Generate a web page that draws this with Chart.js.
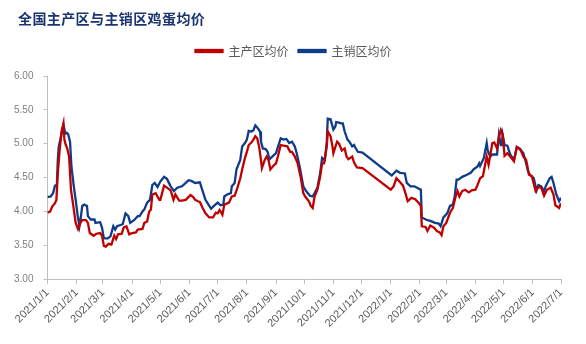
<!DOCTYPE html>
<html>
<head>
<meta charset="utf-8">
<script src="https://cdn.jsdelivr.net/npm/chart.js@4/dist/chart.umd.min.js"></script>
<style>
html,body{margin:0;padding:0;background:#fff;}
#wrap{position:relative;width:586px;height:344px;}
#title{position:absolute;left:18px;top:8px;font-family:"Noto Sans CJK SC",sans-serif;font-weight:bold;font-size:14px;color:#1A3470;letter-spacing:0.4px;}
canvas{position:absolute;left:0;top:0;}
</style>
</head>
<body>
<div id="wrap">
<canvas id="c" width="586" height="344"></canvas>
<div id="title">全国主产区与主销区鸡蛋均价</div>
</div>
<script>
// days since 2021-01-01
const tickDays = [0,31,59,90,120,151,181,212,243,273,304,334,365,396,424,455,485,516,546];
const tickLabels = ['2021/1/1','2021/2/1','2021/3/1','2021/4/1','2021/5/1','2021/6/1','2021/7/1','2021/8/1','2021/9/1','2021/10/1','2021/11/1','2021/12/1','2022/1/1','2022/2/1','2022/3/1','2022/4/1','2022/5/1','2022/6/1','2022/7/1'];
const seriesNames = ['主产区均价','主销区均价'];

const producerDays = [0,3,5,8,9.5,11,13,15,17,18,19.5,21,23,25,28,30,32.5,35,37,41,43,45,49,52,56,58,60,62,65,68,71,73,75,79,81,84,87,90,94,96,101,103,106,108,110,111.5,115,119,120,124,127,131,134,136,140,143,147,152,155,157,160,162,165,168,172,176,179,181,183,186,188,193,196,199,202,205,207,210,212,214,217,219,221,223,225,227,228,231,233,235,237,240,243,245,248,251,255,258,260,263,266,269,272,274,278,280,282,284,287,290,292,294,297,298,301,303,304,306,308,310,313,316,318,320,324,326,329,335,365,368,371,375,378,381,383,387,391,395,397,398,402,404,407,411,414,417,419,421,424,428,431,434,436,438,441,444,448,451,455,457,460,463,466,467,469,473,475,478,480,482,484,486,489,492,496,499,503,506,509,512,515,519,522,525,528,531,535,538,540,544,546];
const producerVals = [3.98,4.00,4.07,4.12,4.17,4.57,4.91,5.18,5.30,5.06,4.98,4.93,4.81,4.32,4.03,3.83,3.74,3.83,3.87,3.87,3.83,3.68,3.64,3.67,3.68,3.64,3.49,3.48,3.52,3.51,3.64,3.59,3.66,3.67,3.76,3.78,3.66,3.68,3.69,3.73,3.74,3.83,3.85,3.99,4.03,4.25,4.27,4.17,4.17,4.38,4.35,4.31,4.17,4.25,4.16,4.16,4.17,4.24,4.21,4.17,4.15,4.14,4.05,3.97,3.91,3.91,3.98,3.97,4.02,3.95,4.10,4.13,4.22,4.23,4.35,4.49,4.62,4.79,4.88,4.98,5.02,5.06,5.11,5.08,4.96,4.76,4.64,4.76,4.81,4.76,4.62,4.67,4.71,4.81,4.98,4.97,4.96,4.88,4.88,4.81,4.71,4.52,4.27,4.22,4.15,4.08,4.05,4.22,4.32,4.52,4.71,4.71,4.96,5.18,5.11,4.96,4.86,4.95,5.03,5.00,4.90,4.93,4.81,4.77,4.81,4.72,4.65,4.64,4.32,4.37,4.49,4.43,4.38,4.25,4.15,4.20,4.18,4.12,4.08,3.78,3.77,3.71,3.79,3.76,3.71,3.69,3.65,3.78,3.83,3.98,4.05,4.22,4.30,4.22,4.30,4.32,4.28,4.31,4.32,4.38,4.49,4.52,4.74,4.81,4.69,5.01,5.02,4.93,5.10,5.20,5.13,4.82,4.86,4.81,4.74,4.95,4.91,4.81,4.76,4.54,4.52,4.30,4.36,4.35,4.23,4.32,4.35,4.25,4.09,4.05,4.12];

const consumerDays = [0,3.5,6,8,10,11,12,14,17,19,20.5,22,24,25.5,28,30,32,34,35,37,39,42,43,46,50,51,56,58,60,64,67,70,72,74,80,83,86,88,92,96,98,101,103,106,109,111.5,114,117,120,124,127,131,134.5,138,143,147,150,153,157,162,165,168,172,174,177,181,184,187,188,191,195,196,199,201,205,207,210,212,214,217,219,221,223,226,227,229,232,234,236,239,243,245,248,251,254,257,260,263,265,268,272,275,279,282,284,287,290,292,295,297,298,301,304,306,307,310,312,314,316,319,321,324,326,327,330,335,366,371,375,380,382,386,390,393,397,398,404,407,412,416,418,421,425,428,431,433,435,437,441,446,450,453,457,459,460,464,467,468,469,471,473,478,480,482,483,484,486,489,492,496,499,502,506,508,511,513,517,520,522,525,528,530,534,536,538,541,544,546];
const consumerVals = [4.21,4.22,4.27,4.38,4.39,4.76,4.96,5.08,5.28,5.15,5.16,5.14,5.03,4.66,4.37,4.17,3.95,3.78,3.86,4.08,4.10,4.08,3.93,3.88,3.88,3.83,3.84,3.76,3.60,3.60,3.63,3.78,3.73,3.78,3.81,3.97,3.93,3.83,3.87,3.93,3.93,4.00,4.03,4.13,4.17,4.39,4.42,4.36,4.44,4.51,4.48,4.37,4.30,4.35,4.37,4.42,4.46,4.45,4.42,4.43,4.30,4.17,4.08,4.04,4.08,4.13,4.09,4.10,4.22,4.25,4.27,4.37,4.42,4.62,4.76,4.96,5.01,5.06,5.19,5.18,5.20,5.27,5.24,5.18,5.03,4.93,4.92,4.88,4.77,4.81,4.86,4.95,5.08,5.06,5.07,5.01,5.03,4.96,4.86,4.67,4.37,4.30,4.23,4.22,4.27,4.35,4.57,4.79,4.76,5.03,5.37,5.36,5.21,5.25,5.32,5.31,5.30,5.30,5.18,5.06,5.03,4.96,4.98,4.95,4.88,4.87,4.53,4.60,4.57,4.56,4.42,4.37,4.37,4.35,4.32,3.91,3.87,3.86,3.83,3.82,3.78,3.91,3.97,4.08,4.10,4.22,4.47,4.47,4.51,4.54,4.57,4.62,4.66,4.71,4.67,4.79,5.01,4.91,4.86,4.81,4.84,4.84,5.13,4.98,4.98,5.13,4.98,4.97,4.84,4.76,4.95,4.93,4.86,4.76,4.59,4.54,4.49,4.31,4.39,4.37,4.30,4.38,4.49,4.51,4.42,4.25,4.15,4.20];

const toXY = (d, v) => d.map((x, i) => ({x: x, y: v[i]}));

const legendTweak = {
  id: 'legendTweak',
  beforeUpdate(chart) {
    const lg = chart.legend;
    if (!lg || lg._tweaked) return;
    lg._tweaked = true;
    const fit = lg.fit;
    lg.fit = function () { fit.call(this); this.height += 9; };
    const draw = lg.draw;
    lg.draw = function () {
      const ctx = this.ctx; ctx.save(); ctx.translate(11, 0); draw.apply(this, arguments); ctx.restore();
    };
  }
};

new Chart(document.getElementById('c'), {
  type: 'line',
  data: {
    datasets: [
      {label: seriesNames[0], data: toXY(producerDays, producerVals), borderColor: '#C00000', backgroundColor: '#C00000', borderWidth: 2.3, pointRadius: 0, tension: 0},
      {label: seriesNames[1], data: toXY(consumerDays, consumerVals), borderColor: '#0E3C8A', backgroundColor: '#0E3C8A', borderWidth: 2.3, pointRadius: 0, tension: 0}
    ]
  },
  plugins: [legendTweak],
  options: {
    responsive: false,
    animation: false,
    layout: {padding: {left: 4, right: 25, top: 35, bottom: 12}},
    plugins: {
      legend: {
        position: 'top',
        labels: {boxWidth: 27, boxHeight: 2, padding: 10, color: '#595959', font: {family: '"Noto Sans CJK SC", sans-serif', size: 12}}
      },
      tooltip: {enabled: false}
    },
    scales: {
      x: {
        type: 'linear', min: 0, max: 546,
        afterBuildTicks: (s) => { s.ticks = tickDays.map(v => ({value: v})); },
        ticks: {autoSkip: false, minRotation: 45, maxRotation: 45, color: '#595959', font: {family: '"Liberation Sans", Arial, sans-serif', size: 11}, padding: 2,
          callback: (v, i) => tickLabels[i]},
        grid: {display: true, drawOnChartArea: false, tickLength: 5, color: '#bfbfbf'},
        border: {color: '#bfbfbf'}
      },
      y: {
        min: 3, max: 6,
        ticks: {stepSize: 0.5, color: '#7f7f7f', font: {family: '"Liberation Sans", Arial, sans-serif', size: 10}, padding: 10, callback: (v) => v.toFixed(2)},
        grid: {display: true, drawOnChartArea: false, tickLength: 4, color: '#bfbfbf'},
        border: {color: '#bfbfbf'}
      }
    }
  }
});
</script>
</body>
</html>
